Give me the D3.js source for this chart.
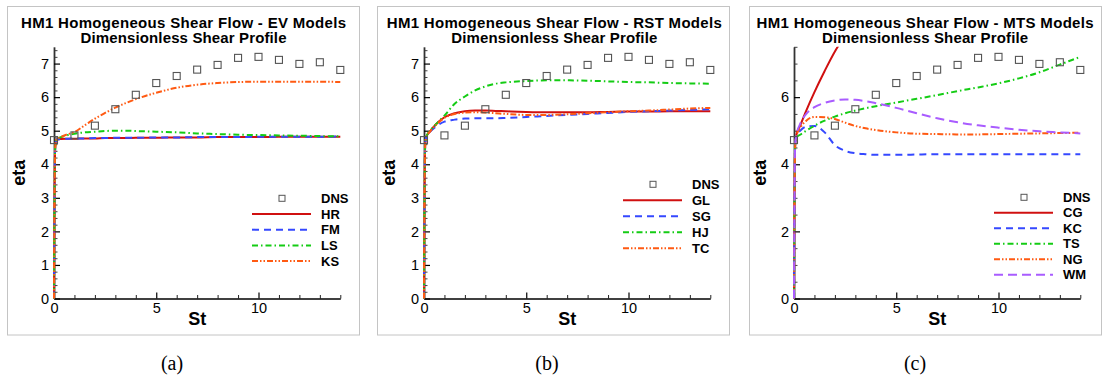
<!DOCTYPE html>
<html><head><meta charset="utf-8">
<script src="https://cdn.jsdelivr.net/npm/d3@7"></script>
<style>body{margin:0;background:#fff}svg{display:block}</style>
</head><body><svg id="c" width="1115" height="379"></svg>
<script>
// ---------- data ----------
const stGrid = [0,0.02,0.06,0.12,0.3,0.6,1,1.5,2,2.5,3,3.5,4,5,6,7,8,9,10,11,12,13,14];
const dnsSt  = [0,1,2,3,4,5,6,7,8,9,10,11,12,13,14];
const dnsEta = [4.72,4.86,5.15,5.64,6.07,6.42,6.63,6.82,6.96,7.17,7.2,7.11,6.99,7.04,6.81];
// (a) EV models
const hrEta = [0,2.5,4.5,4.74,4.75,4.76,4.76,4.77,4.77,4.78,4.78,4.78,4.79,4.79,4.80,4.80,4.81,4.81,4.81,4.82,4.82,4.82,4.82];
const fmEta = [0,2.5,4.5,4.74,4.75,4.76,4.77,4.77,4.78,4.78,4.79,4.79,4.79,4.80,4.80,4.81,4.81,4.81,4.82,4.82,4.82,4.82,4.83];
const lsEta = [0,2.5,4.5,4.75,4.8,4.86,4.91,4.95,4.97,4.99,5.0,5.0,4.99,4.97,4.95,4.92,4.9,4.88,4.87,4.86,4.85,4.84,4.83];
const ksEta = [0,2.5,4.5,4.75,4.8,4.88,4.96,5.16,5.36,5.53,5.69,5.82,5.94,6.13,6.28,6.37,6.42,6.45,6.46,6.46,6.46,6.46,6.45];
// (b) RST models
const glEta = [0,2.5,4.6,4.82,4.98,5.2,5.4,5.52,5.58,5.6,5.6,5.59,5.58,5.56,5.55,5.55,5.55,5.56,5.57,5.57,5.58,5.58,5.58];
const sgEta = [0,2.5,4.6,4.82,4.97,5.13,5.27,5.33,5.36,5.37,5.37,5.37,5.38,5.41,5.44,5.47,5.5,5.53,5.56,5.58,5.6,5.62,5.64];
const hjEta = [0,2.5,4.6,4.84,5.0,5.2,5.45,5.8,6.02,6.2,6.32,6.4,6.44,6.48,6.5,6.5,6.49,6.47,6.45,6.44,6.42,6.41,6.4];
const tcEta = [0,2.5,4.6,4.82,4.98,5.18,5.38,5.5,5.54,5.55,5.54,5.52,5.5,5.47,5.47,5.49,5.52,5.55,5.58,5.6,5.63,5.66,5.68];
// (c) MTS models
const cgSt  = [0,0.02,0.06,0.12,0.3,0.6,1,1.5,2,2.4];
const cgEta = [0,2.5,4.6,4.88,5.15,5.6,6.15,6.78,7.36,7.75];
const kcEta = [0,2.5,4.6,4.88,5.0,5.12,5.14,4.95,4.57,4.4,4.33,4.3,4.28,4.28,4.29,4.3,4.3,4.3,4.3,4.3,4.3,4.3,4.3];
const tsEta = [0,2.5,4.6,4.8,4.88,5.0,5.15,5.3,5.42,5.52,5.6,5.67,5.73,5.84,5.95,6.06,6.18,6.29,6.41,6.56,6.74,6.97,7.2];
const ngEta = [0,2.5,4.6,4.85,5.08,5.3,5.41,5.4,5.35,5.24,5.14,5.07,5.02,4.95,4.91,4.9,4.89,4.89,4.9,4.91,4.92,4.93,4.94];
const wmEta = [0,2.5,4.6,4.87,5.2,5.5,5.7,5.83,5.9,5.93,5.92,5.88,5.82,5.68,5.52,5.37,5.25,5.16,5.09,5.03,4.98,4.95,4.92];

const titlesLine1 = ["HM1 Homogeneous Shear Flow - EV Models","HM1 Homogeneous Shear Flow - RST Models","HM1 Homogeneous Shear Flow - MTS Models"];
const titleLine2 = "Dimensionless Shear Profile";
const captions = ["(a)","(b)","(c)"];
const xTicks = [0,5,10];
const yTicksAB = [0,1,2,3,4,5,6,7];
const yTicksC = [0,2,4,6];

// ---------- styles ----------
const C = {red:"#d01010", blue:"#3548ff", green:"#14cc14", orange:"#ff5a12", purple:"#a95cff"};
const DASH = {solid:null, dash:"7,5", dashdot:"6,3,1.5,3", dashdotdot:"6,2,1.5,2,1.5,2", longdash:"9,5"};

const panels = [
  {ox:0, capX:172, legY:198.3, legDy:15.7, yTicks:yTicksAB, yMinor:0.2, t1w:325,
   series:[
     {name:"HR", x:stGrid, y:hrEta, color:C.red, dash:DASH.solid, w:2},
     {name:"FM", x:stGrid, y:fmEta, color:C.blue, dash:DASH.dash, w:2},
     {name:"LS", x:stGrid, y:lsEta, color:C.green, dash:DASH.dashdot, w:2},
     {name:"KS", x:stGrid, y:ksEta, color:C.orange, dash:DASH.dashdotdot, w:2}]},
  {ox:370, capX:547, legY:184.3, legDy:16, yTicks:yTicksAB, yMinor:0.2, t1w:335,
   series:[
     {name:"GL", x:stGrid, y:glEta, color:C.red, dash:DASH.solid, w:2},
     {name:"SG", x:stGrid, y:sgEta, color:C.blue, dash:DASH.dash, w:2},
     {name:"HJ", x:stGrid, y:hjEta, color:C.green, dash:DASH.dashdot, w:2},
     {name:"TC", x:stGrid, y:tcEta, color:C.orange, dash:DASH.dashdotdot, w:2}]},
  {ox:740, capX:915, legY:197.3, legDy:15.5, yTicks:yTicksC, yMinor:0.5, t1w:337,
   series:[
     {name:"CG", x:cgSt, y:cgEta, color:C.red, dash:DASH.solid, w:2},
     {name:"KC", x:stGrid, y:kcEta, color:C.blue, dash:DASH.dash, w:2},
     {name:"TS", x:stGrid, y:tsEta, color:C.green, dash:DASH.dashdot, w:2},
     {name:"NG", x:stGrid, y:ngEta, color:C.orange, dash:DASH.dashdotdot, w:2},
     {name:"WM", x:stGrid, y:wmEta, color:C.purple, dash:DASH.longdash, w:2}]}
];

const svg = d3.select("#c");
const FONT = "'Liberation Sans', Arial, sans-serif";

panels.forEach((p, i) => {
  const g = svg.append("g").attr("transform", `translate(${p.ox},0)`);
  // panel frame
  g.append("rect").attr("x", 7.5 + (i===2?2:0)).attr("y", 6.5).attr("width", 352).attr("height", 328.5)
    .attr("fill", "none").attr("stroke", "#c4c4c4").attr("stroke-width", 1);

  const x = d3.scaleLinear().domain([0, 14]).range([54, 54 + 14 * 20.45]);
  const y = d3.scaleLinear().domain([0, 7.5]).range([298.5, 46.8]);

  // titles
  const cx = 183.5 + i * 0.8;
  g.append("text").attr("x", cx).attr("y", 28).attr("text-anchor", "middle")
    .attr("font-family", FONT).attr("font-weight", "bold").attr("font-size", 15)
    .attr("textLength", p.t1w).attr("lengthAdjust", "spacing").text(titlesLine1[i]);
  g.append("text").attr("x", cx).attr("y", 43).attr("text-anchor", "middle")
    .attr("font-family", FONT).attr("font-weight", "bold").attr("font-size", 15)
    .attr("textLength", 206).attr("lengthAdjust", "spacing").text(titleLine2);

  // minor ticks
  const xMinor = d3.range(0, 14.001, 1).filter(v => !xTicks.includes(v));
  g.append("g").attr("transform", `translate(0,${y(0)})`)
    .call(d3.axisBottom(x).tickValues(xMinor).tickSizeInner(-3.5).tickSizeOuter(0).tickFormat(""))
    .call(a => a.select(".domain").remove())
    .selectAll("line").attr("stroke", "#222");
  const yMinorVals = d3.range(0, 7.5001, p.yMinor).map(v => +v.toFixed(2)).filter(v => !p.yTicks.includes(v));
  g.append("g").attr("transform", `translate(${x(0)},0)`)
    .call(d3.axisLeft(y).tickValues(yMinorVals).tickSizeInner(-3.5).tickSizeOuter(0).tickFormat(""))
    .call(a => a.select(".domain").remove())
    .selectAll("line").attr("stroke", "#444");

  // major axes
  const xa = g.append("g").attr("transform", `translate(0,${y(0)})`)
    .call(d3.axisBottom(x).tickValues(xTicks).tickSizeInner(-6).tickSizeOuter(0).tickPadding(4).tickFormat(d3.format("d")));
  xa.attr("font-family", FONT).attr("font-size", 14.5);
  xa.select(".domain").attr("stroke", "#000").attr("stroke-width", 1.6);
  xa.selectAll(".tick line").attr("stroke", "#000").attr("stroke-width", 1.2);
  xa.selectAll(".tick text").attr("fill", "#000");

  const ya = g.append("g").attr("transform", `translate(${x(0)},0)`)
    .call(d3.axisLeft(y).tickValues(p.yTicks).tickSizeInner(-6).tickSizeOuter(0).tickPadding(5).tickFormat(d3.format("d")));
  ya.attr("font-family", FONT).attr("font-size", 14.5);
  ya.select(".domain").attr("stroke", "#333").attr("stroke-width", 1.8);
  ya.selectAll(".tick line").attr("stroke", "#000").attr("stroke-width", 1.2);
  ya.selectAll(".tick text").attr("fill", "#000");

  // axis titles
  g.append("text").attr("x", (x(0) + x(14)) / 2).attr("y", 325).attr("text-anchor", "middle")
    .attr("font-family", FONT).attr("font-weight", "bold").attr("font-size", 18).text("St");
  g.append("text").attr("transform", `translate(${25 + (i===2?1:0)},${(y(0)+y(7.5))/2}) rotate(-90)`)
    .attr("text-anchor", "middle").attr("font-family", FONT).attr("font-weight", "bold").attr("font-size", 18).text("eta");

  // clip
  const clipId = "clip" + i;
  g.append("clipPath").attr("id", clipId).append("rect")
    .attr("x", x(0) - 3).attr("y", y(7.5)).attr("width", x(14) - x(0) + 6).attr("height", y(0) - y(7.5) + 2);

  const line = d3.line().x(d => x(d[0])).y(d => y(d[1])).curve(d3.curveMonotoneX);
  const lg = g.append("g").attr("clip-path", `url(#${clipId})`);
  p.series.forEach(s => {
    const pts = s.x.map((v, k) => [v, s.y[k]]);
    lg.append("path").attr("d", line(pts)).attr("fill", "none")
      .attr("stroke", s.color).attr("stroke-width", s.w)
      .attr("stroke-dasharray", s.dash);
  });

  // DNS markers
  g.append("g").selectAll("rect").data(dnsSt.map((v, k) => [v, dnsEta[k]])).join("rect")
    .attr("x", d => x(d[0]) - 3.5).attr("y", d => y(d[1]) - 3.5).attr("width", 7).attr("height", 7)
    .attr("fill", "none").attr("stroke", "#555").attr("stroke-width", 1.1);

  // legend
  const leg = g.append("g");
  const rows = [{name:"DNS", marker:true}].concat(p.series);
  rows.forEach((r, k) => {
    const ry = p.legY + k * p.legDy;
    if (r.marker) {
      leg.append("rect").attr("x", 282 + (i*1) - 3).attr("y", ry - 3).attr("width", 6).attr("height", 6)
        .attr("fill", "none").attr("stroke", "#555").attr("stroke-width", 1);
    } else {
      leg.append("line").attr("x1", 252 + i).attr("x2", 311 + i).attr("y1", ry).attr("y2", ry)
        .attr("stroke", r.color).attr("stroke-width", r.w).attr("stroke-dasharray", r.dash);
    }
    leg.append("text").attr("x", 321 + i).attr("y", ry).attr("dy", "0.36em")
      .attr("font-family", FONT).attr("font-weight", "bold").attr("font-size", 13).text(r.name);
  });

  // caption
  svg.append("text").attr("x", p.capX).attr("y", 370).attr("text-anchor", "middle")
    .attr("font-family", "'Liberation Serif', 'DejaVu Serif', serif").attr("font-size", 20).text(captions[i]);
});
</script>
</body></html>
